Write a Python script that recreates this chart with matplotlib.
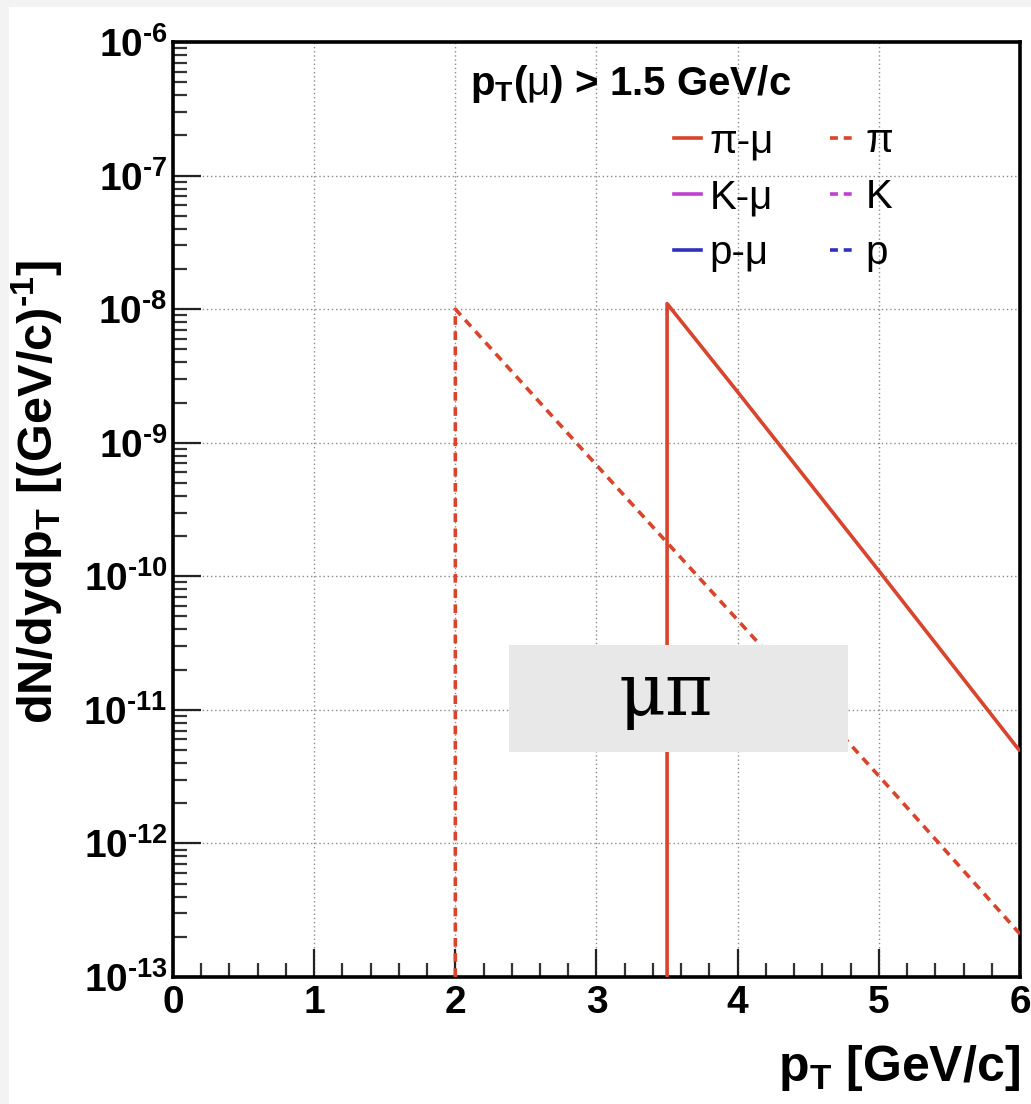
import math
import matplotlib
matplotlib.use("Agg")
import matplotlib.pyplot as plt
from matplotlib.patches import Rectangle
from matplotlib.lines import Line2D
from matplotlib.ticker import FixedLocator, FuncFormatter, MultipleLocator, LogLocator, NullFormatter

plt.rcParams['font.family'] = ['Liberation Sans', 'DejaVu Sans']
plt.rcParams['mathtext.fontset'] = 'custom'
plt.rcParams['mathtext.rm'] = 'Liberation Sans'
plt.rcParams['mathtext.bf'] = 'Liberation Sans:bold'
plt.rcParams['mathtext.it'] = 'Liberation Sans:italic'

# ---- data ----
pt_pimu = [3.5, 3.5, 4.0, 5.0, 6.0]
y_pimu = [1e-13, 1.1e-8, 2.4e-9, 1.1e-10, 4.9e-12]
pt_pi = [2.0, 2.0, 3.0, 4.0, 5.0, 6.0]
y_pi = [1e-13, 1.0e-8, 6.8e-10, 4.7e-11, 3.2e-12, 2.1e-13]
legend_labels = ['π-μ', 'K-μ', 'p-μ', 'π', 'K', 'p']
x_ticks = [0, 1, 2, 3, 4, 5, 6]
y_exponents = [-13, -12, -11, -10, -9, -8, -7, -6]

RED = '#d8442c'
MAG = '#c040d0'
BLUE = '#3030c0'
HY = '\u2010'

W, H = 1031, 1104
fig = plt.figure(figsize=(W / 100, H / 100), dpi=100)
fig.patch.set_facecolor('#f3f3f3')
fig.patches.append(Rectangle((9 / W, 0), 1 - 9 / W, 1 - 7 / H, transform=fig.transFigure,
                             facecolor='white', edgecolor='none', zorder=-10))

ax = fig.add_axes([173 / W, (H - 977) / H, 847 / W, 935 / H])
ax.set_facecolor('white')

ax.set_yscale('log')
ax.set_xlim(0, 6)
ax.set_ylim(1e-13, 1e-6)

lw = 2.6
ax.plot(pt_pimu, y_pimu, color=RED, lw=lw, solid_capstyle='butt', zorder=3)
ax.plot(pt_pi, y_pi, color=RED, lw=lw, linestyle=(0, (2.4, 1.8)), zorder=3)

# grid
ax.grid(True, which='major', linestyle=(0, (1, 2)), color='#8a8a8a', lw=1.0)

# ticks
ax.xaxis.set_major_locator(FixedLocator(x_ticks))
ax.xaxis.set_minor_locator(MultipleLocator(0.2))
ax.yaxis.set_major_locator(FixedLocator([10.0 ** e for e in y_exponents]))
ax.yaxis.set_minor_locator(LogLocator(base=10, subs=range(2, 10), numticks=50))
ax.yaxis.set_minor_formatter(NullFormatter())
ax.xaxis.set_major_formatter(FuncFormatter(lambda v, p: '%d' % round(v)))


def yfmt(v, p):
    e = round(math.log10(v))
    return r'$\mathbf{10^{%s%d}}$' % (HY, abs(e))


ax.yaxis.set_major_formatter(FuncFormatter(yfmt))

ax.tick_params(axis='both', which='major', direction='in', length=20, width=1.6,
               top=False, right=False, labelsize=28, color='#222222')
ax.tick_params(axis='both', which='minor', direction='in', length=10, width=1.6,
               top=False, right=False, color='#333333')
ax.tick_params(axis='x', which='major', pad=6)
ax.tick_params(axis='y', which='major', pad=4)
for lab in ax.get_xticklabels():
    lab.set_fontweight('bold')

for s in ax.spines.values():
    s.set_linewidth(2.6)
    s.set_color('black')

# title text
ax.text((470 - 173) / 847, 1 - (95 - 42) / 935, r'p$_{\mathbf{T}}$($\mathrm{μ}$) > 1.5 GeV/c',
        transform=ax.transAxes, fontsize=29, fontweight='bold', ha='left', va='baseline')

# legend
dash = (0, (2.2, 1.6))
handles = [
    Line2D([], [], color=RED, lw=lw),
    Line2D([], [], color=MAG, lw=lw),
    Line2D([], [], color=BLUE, lw=lw),
    Line2D([], [], color=RED, lw=lw, linestyle=dash),
    Line2D([], [], color=MAG, lw=lw, linestyle=dash),
    Line2D([], [], color=BLUE, lw=lw, linestyle=dash),
]
leg = ax.legend(handles, legend_labels, ncol=2, frameon=False, fontsize=29,
                handlelength=0.65, handletextpad=0.22, columnspacing=1.4, labelspacing=0.45,
                borderpad=0, borderaxespad=0,
                loc='upper left', bbox_to_anchor=((677 - 173) / 847 - 0.003, 1 - (122 - 42) / 935))

# gray box with label
ax.add_patch(Rectangle((0.397, 0.241), 0.400, 0.114, transform=ax.transAxes,
                       facecolor='#e8e8e8', edgecolor='none', zorder=5))
ax.text((666 - 173) / 847, (977 - 715) / 935, 'μπ', transform=ax.transAxes, ha='center',
        va='baseline', fontsize=52, family=['DejaVu Serif'], zorder=6)

# axis labels
fig.text(37 / W, 1 - 492 / H, r'dN/dydp$_{\mathbf{T}}$ [(GeV/c)$^{\mathbf{%s1}}$]' % HY,
         rotation=90, ha='center', va='center', fontsize=35, fontweight='bold')
fig.text(1020 / W, 1 - 1068 / H, r'p$_{\mathbf{T}}$ [GeV/c]', ha='right', va='center',
         fontsize=36, fontweight='bold')

fig.savefig('out.png', dpi=100, facecolor=fig.get_facecolor())
